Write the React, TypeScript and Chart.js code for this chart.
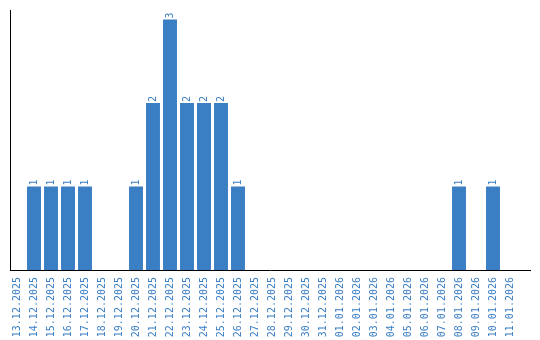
import { useEffect, useRef } from "react";
import { Chart, registerables } from "chart.js";

Chart.register(...registerables);

const dates = [
  "13.12.2025", "14.12.2025", "15.12.2025", "16.12.2025", "17.12.2025",
  "18.12.2025", "19.12.2025", "20.12.2025", "21.12.2025", "22.12.2025",
  "23.12.2025", "24.12.2025", "25.12.2025", "26.12.2025", "27.12.2025",
  "28.12.2025", "29.12.2025", "30.12.2025", "31.12.2025", "01.01.2026",
  "02.01.2026", "03.01.2026", "04.01.2026", "05.01.2026", "06.01.2026",
  "07.01.2026", "08.01.2026", "09.01.2026", "10.01.2026", "11.01.2026",
];
const counts = [
  0, 1, 1, 1, 1,
  0, 0, 1, 2, 3,
  2, 2, 2, 1, 0,
  0, 0, 0, 0, 0,
  0, 0, 0, 0, 0,
  0, 1, 0, 1, 0,
];

const BLUE = "#3a7ec4";
const FONT = "DejaVu Sans Mono";

export default function App() {
  const ref = useRef<HTMLCanvasElement>(null);

  useEffect(() => {
    document.body.style.margin = "0";
    const axisLines = {
      id: "axisLines",
      afterDraw(chart: any) {
        const { ctx, chartArea } = chart;
        ctx.save();
        ctx.strokeStyle = "#000";
        ctx.lineWidth = 1;
        ctx.beginPath();
        ctx.moveTo(10.5, 10);
        ctx.lineTo(10.5, chartArea.bottom + 1);
        ctx.moveTo(10, chartArea.bottom + 0.5);
        ctx.lineTo(531, chartArea.bottom + 0.5);
        ctx.stroke();
        ctx.restore();
      },
    };
    const valueLabels = {
      id: "valueLabels",
      afterDatasetsDraw(chart: any) {
        const { ctx } = chart;
        const meta = chart.getDatasetMeta(0);
        ctx.save();
        ctx.fillStyle = BLUE;
        ctx.font = `10px "${FONT}"`;
        ctx.textAlign = "left";
        ctx.textBaseline = "middle";
        meta.data.forEach((bar: any, i: number) => {
          const v = counts[i];
          if (!v) return;
          ctx.save();
          ctx.translate(bar.x, bar.y - 1);
          ctx.rotate(-Math.PI / 2);
          ctx.fillText(String(v), 0, 0);
          ctx.restore();
        });
        ctx.restore();
      },
    };

    const chart = new Chart(ref.current!, {
      type: "bar",
      data: {
        labels: dates,
        datasets: [
          {
            data: counts,
            backgroundColor: BLUE,
            borderWidth: 0,
            barPercentage: 1,
            categoryPercentage: 0.82,
          },
        ],
      },
      options: {
        animation: false,
        responsive: true,
        maintainAspectRatio: false,
        layout: { padding: { left: 8.5, right: 21.5, top: 10, bottom: 3 } },
        plugins: { legend: { display: false }, tooltip: { enabled: false } },
        scales: {
          x: {
            grid: { display: false, drawTicks: false },
            border: { display: false },
            ticks: {
              color: BLUE,
              font: { family: FONT, size: 10 },
              minRotation: 90,
              maxRotation: 90,
              autoSkip: false,
              padding: 7,
            },
            afterFit(scale: any) {
              scale.height = 67;
            },
          },
          y: {
            display: false,
            min: 0,
            max: 3.114,
          },
        },
      },
      plugins: [axisLines, valueLabels],
    });
    return () => chart.destroy();
  }, []);

  return (
    <div style={{ position: "relative", width: 540, height: 340 }}>
      <canvas ref={ref} />
    </div>
  );
}
